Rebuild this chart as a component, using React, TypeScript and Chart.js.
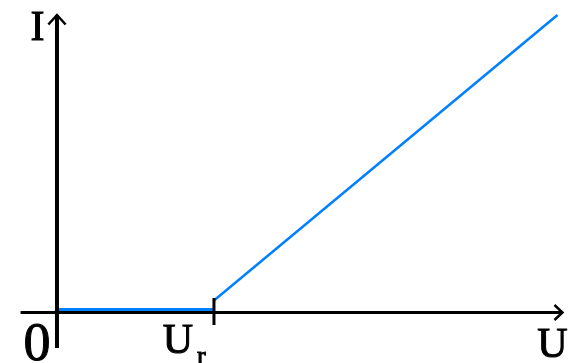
import React, { useEffect, useRef } from "react";
import { Chart, registerables } from "chart.js";

Chart.register(...registerables);

// Data (units: U_r = 1 on the U axis, arbitrary current units on I axis)
const X_RANGE = [-0.363, 3.268];
const Y_RANGE = [-0.505, 3.125];

const yAxisLine = [
  { x: 0, y: -0.355 },
  { x: 0, y: 2.975 },
];
const yArrow = [
  { x: -0.055, y: 2.88 },
  { x: 0, y: 2.975 },
  { x: 0.055, y: 2.88 },
];
const xAxisLine = [
  { x: -0.232, y: 0 },
  { x: 3.22, y: 0 },
];
const xArrow = [
  { x: 3.169, y: 0.075 },
  { x: 3.22, y: 0 },
  { x: 3.169, y: -0.075 },
];
const urTick = [
  { x: 1, y: 0.145 },
  { x: 1, y: -0.125 },
];
const flatCurrent = [
  { x: 0, y: 0.025 },
  { x: 1, y: 0.025 },
];
const risingCurrent = [
  { x: 1, y: 0.12 },
  { x: 3.188, y: 2.975 },
];

const labels = [
  { text: "I", x: -0.124, y: 2.725, size: 42, align: "center" },
  { text: "0", x: -0.127, y: -0.475, size: 54, align: "center" },
  { text: "U", x: 0.77, y: -0.405, size: 42, align: "center" },
  { text: "r", x: 0.92, y: -0.51, size: 26, align: "center" },
  { text: "U", x: 3.156, y: -0.445, size: 42, align: "center" },
];

const BLACK = "#000000";
const BLUE = "#0080ff";

const labelPlugin = {
  id: "axisLabels",
  afterDatasetsDraw(chart: any) {
    const { ctx, scales } = chart;
    ctx.save();
    ctx.fillStyle = BLACK;
    ctx.strokeStyle = BLACK;
    ctx.lineWidth = 1;
    ctx.textBaseline = "alphabetic";
    for (const l of labels) {
      ctx.font = `${l.size}px "Liberation Serif", serif`;
      ctx.textAlign = l.align;
      const px = scales.x.getPixelForValue(l.x);
      const py = scales.y.getPixelForValue(l.y);
      ctx.fillText(l.text, px, py);
      ctx.strokeText(l.text, px, py);
    }
    ctx.restore();
  },
};

export default function App() {
  const ref = useRef<HTMLCanvasElement>(null);
  useEffect(() => {
    document.body.style.margin = "0";
    const line = (data: any[], color: string, width: number) => ({
      data,
      borderColor: color,
      backgroundColor: color,
      borderWidth: width,
      showLine: true,
      pointRadius: 0,
      borderCapStyle: "butt",
      borderJoinStyle: "miter",
      fill: false,
    });
    const chart = new Chart(ref.current as HTMLCanvasElement, {
      type: "scatter",
      data: {
        datasets: [
          line(yAxisLine, BLACK, 4),
          line(yArrow, BLACK, 2.5),
          line(xAxisLine, BLACK, 3),
          line(xArrow, BLACK, 2.5),
          line(urTick, BLACK, 3),
          line(flatCurrent, BLUE, 4),
          line(risingCurrent, BLUE, 2.5),
        ] as any,
      },
      options: {
        animation: false,
        responsive: false,
        layout: { padding: 0 },
        plugins: { legend: { display: false }, tooltip: { enabled: false } },
        scales: {
          x: { type: "linear", min: X_RANGE[0], max: X_RANGE[1], display: false },
          y: { type: "linear", min: Y_RANGE[0], max: Y_RANGE[1], display: false },
        },
      },
      plugins: [labelPlugin],
    });
    return () => chart.destroy();
  }, []);
  return (
    <div style={{ position: "absolute", left: 0, top: 0, width: 570, height: 363, background: "#fff" }}>
      <canvas ref={ref} width={570} height={363} />
    </div>
  );
}
